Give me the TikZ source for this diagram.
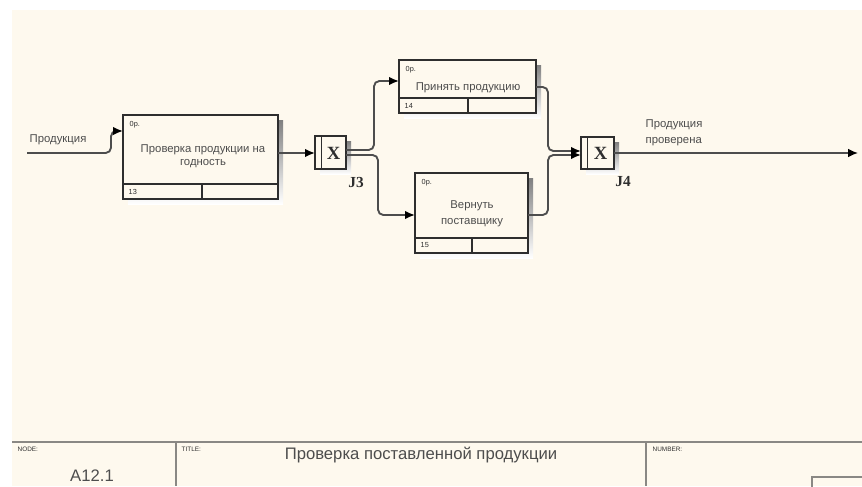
\documentclass[tikz,border=0pt]{standalone}
\usepackage{fontspec}
\setmainfont{Liberation Sans}
\newfontfamily\jfont{Liberation Serif}
\usetikzlibrary{arrows.meta,calc}
\definecolor{paper}{HTML}{FEF9EE}
\definecolor{ink}{HTML}{2E2E2E}
\definecolor{shade}{HTML}{A8A6A0}
\definecolor{framegray}{HTML}{8A8884}
\tikzset{
  actbox/.style={draw=ink, line width=0.9pt, fill=paper, inner sep=0pt, outer sep=0pt},
  jbox/.style={draw=ink, line width=0.9pt, fill=paper, inner sep=0pt, outer sep=0pt},
  conn/.style={draw=ink!85, line width=1.4pt, rounded corners=4pt},
  arr/.style={-{Latex[length=7.5pt,width=6.5pt,color=black]}},
  boxtext/.style={font=\fontsize{8.5}{9.5}\selectfont, align=center, text=ink!85},
  tiny/.style={font=\fontsize{5.5}{5.5}\selectfont, text=ink},
  jlabel/.style={font=\jfont\bfseries\fontsize{11.5}{11.5}\selectfont, text=ink},
  jx/.style={font=\jfont\bfseries\fontsize{14}{14}\selectfont, text=ink},
  framelabel/.style={font=\fontsize{4.8}{4.8}\selectfont, text=ink, anchor=west},
}
\begin{document}
\begin{tikzpicture}[x=0.75pt,y=-0.75pt]
% page and sheet
\fill[white] (0,0) rectangle (862,486);
\useasboundingbox (0,0) rectangle (862,486);
\fill[paper] (12,10) rectangle (862,486);

% shadows
\fill[shade] (128,120) rectangle (283,204);
\fill[shade] (404,65) rectangle (541,118);
\fill[shade] (420,178) rectangle (533,258);
\fill[shade] (320,141) rectangle (351,174);
\fill[shade] (586,142) rectangle (619,174);

% activity boxes
\node[actbox, minimum width=116.25pt, minimum height=63pt] (b1) at (200.5,157) {};
\node[actbox, minimum width=102.75pt, minimum height=39.75pt] (b2) at (467.5,86.5) {};
\node[actbox, minimum width=84.75pt, minimum height=60pt] (b3) at (471.5,213) {};

% bottom strips with dividers
\draw[ink, line width=0.8pt] ($(b1.south west)+(0,-15)$) -- ($(b1.south east)+(0,-15)$);
\draw[ink, line width=0.8pt] (202,184) -- (b1.south -| 202,0);
\draw[ink, line width=0.8pt] ($(b2.south west)+(0,-15)$) -- ($(b2.south east)+(0,-15)$);
\draw[ink, line width=0.8pt] (468,98) -- (b2.south -| 468,0);
\draw[ink, line width=0.8pt] ($(b3.south west)+(0,-15)$) -- ($(b3.south east)+(0,-15)$);
\draw[ink, line width=0.8pt] (472,238) -- (b3.south -| 472,0);

% box texts
\node[tiny, anchor=north west] at (b1.north west) [xshift=1.5pt,yshift=-1.2pt] {0р.};
\node[tiny, anchor=north west] at (b2.north west) [xshift=1.5pt,yshift=-1.2pt] {0р.};
\node[tiny, anchor=north west] at (b3.north west) [xshift=1.5pt,yshift=-1.2pt] {0р.};
\node[tiny, anchor=west] at (124,191.5) {13};
\node[tiny, anchor=west] at (400,105.5) {14};
\node[tiny, anchor=west] at (416,245.5) {15};
\node[boxtext] (t1) at (203,156.5) {Проверка продукции на\\годность};
\node[boxtext] (t2) at (468,88) {Принять продукцию};
\node[boxtext] (t3) at (472,214) {Вернуть\\[2.5pt]поставщику};

% junctions
\node[jbox, minimum width=23.25pt, minimum height=24.75pt] (j3) at (330.5,152.5) {};
\node[jbox, minimum width=24.75pt, minimum height=24pt] (j4) at (597.5,153) {};
\draw[ink, line width=0.7pt] (321,136) -- (321,169);
\draw[ink, line width=0.7pt] (587,137) -- (587,169);
\node[jx] at (333.5,153) {X};
\node[jx] at (600.5,153) {X};
\node[jlabel] at (356,182) {J3};
\node[jlabel] at (623,182) {J4};

% arrows
\coordinate (src) at (27,153);
\coordinate (dst) at (858,153);
\draw[conn, arr] (src) -- (111,153) -- (111,131) -- (b1.west |- 0,131);
\draw[conn, arr] (b1.east |- 0,153) -- (j3.west |- 0,153);
\draw[conn, arr] (j3.east |- 0,150) -- (374,150) -- (374,81) -- (b2.west |- 0,81);
\draw[conn, arr] (j3.east |- 0,155) -- (378,155) -- (378,215) -- (b3.west |- 0,215);
\draw[conn, arr] (b2.east |- 0,87) -- (548,87) -- (548,151) -- (j4.west |- 0,151);
\draw[conn, arr] (b3.east |- 0,215) -- (548,215) -- (548,155) -- (j4.west |- 0,155);
\draw[conn, arr, line width=1.1pt] (j4.east |- 0,153) -- (dst);

% arrow labels
\node[boxtext, anchor=west] at (25,139.5) {Продукция};
\node[boxtext, anchor=west, align=left] at (641,132.5) {Продукция\\[2.5pt]проверена};

% title frame
\draw[framegray, line width=1.6pt] (12,442) -- (862,442);
\draw[framegray, line width=1.4pt] (176,442) -- (176,486);
\draw[framegray, line width=1.4pt] (646,442) -- (646,486);
\draw[framegray, line width=1.2pt] (812,490) -- (812,477) -- (866,477);
\node[framelabel] (nodelbl) at (13,449.5) {NODE:};
\node[framelabel] (titlelbl) at (177,449.5) {TITLE:};
\node[framelabel] (numlbl) at (648,449.5) {NUMBER:};
\node[font=\fontsize{12.5}{12.5}\selectfont, text=ink!85] (nodeno) at (92,476) {A12.1};
\node[font=\fontsize{12.5}{12.5}\selectfont, text=ink!85] (title) at (421,455) {Проверка поставленной продукции};
\end{tikzpicture}
\end{document}
